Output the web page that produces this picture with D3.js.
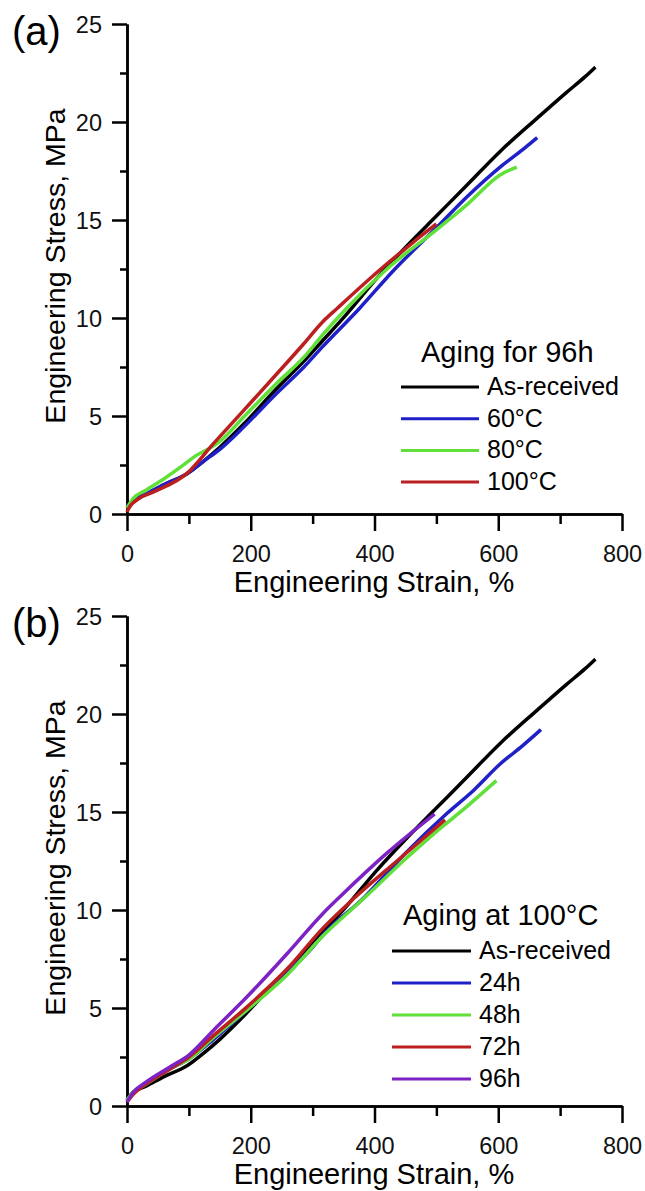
<!DOCTYPE html>
<html>
<head>
<meta charset="utf-8">
<script src="https://cdn.jsdelivr.net/npm/d3@7"></script>
<style>
  body { margin: 0; background: #fff; }
  svg { display: block; font-family: "Liberation Sans", Arial, sans-serif; }
</style>
</head>
<body>
<svg id="chart" width="645" height="1191"></svg>
<script>
// Tick values
const strainTicks = [0, 200, 400, 600, 800];
const strainMinor = [100, 300, 500, 700];
const stressTicks = [0, 5, 10, 15, 20, 25];
const stressMinor = [2.5, 7.5, 12.5, 17.5, 22.5];

// Curves: [strain %, stress MPa]
const asReceived = [[0,0.3],[10,0.7],[30,1.0],[60,1.5],[97,2.05],[124,2.7],[150,3.4],[189,4.6],[242,6.4],[286,7.8],[315,8.8],[355,10.2],[403,12.0],[450,13.6],[500,15.2],[550,16.8],[603,18.5],[663,20.2],[710,21.5],[740,22.3],[757,22.8]];
const temp60 = [[0,0.4],[10,0.7],[30,1.0],[60,1.5],[97,2.05],[124,2.7],[150,3.3],[189,4.45],[242,6.16],[286,7.5],[315,8.5],[376,10.5],[430,12.4],[500,14.6],[550,16.2],[603,17.7],[640,18.6],[663,19.2]];
const temp80 = [[0,0.3],[10,0.8],[30,1.2],[60,1.8],[87,2.4],[108,2.9],[150,3.7],[189,4.96],[242,6.67],[286,8.0],[315,9.1],[355,10.5],[420,12.5],[500,14.5],[550,15.8],[603,17.3],[630,17.7]];
const temp100 = [[0,0.1],[3,0.3],[20,0.8],[44,1.14],[97,2.07],[140,3.6],[189,5.3],[243,7.18],[286,8.7],[316,9.8],[340,10.5],[414,12.6],[460,13.8],[500,14.8]];

const aged24h = [[0,0.3],[10,0.7],[30,1.1],[70,1.9],[100,2.4],[140,3.4],[194,4.9],[259,6.8],[300,8.1],[316,8.7],[382,10.6],[450,12.9],[516,14.9],[560,16.1],[603,17.45],[640,18.4],[669,19.2]];
const aged48h = [[0,0.3],[10,0.7],[30,1.1],[70,1.9],[100,2.4],[140,3.5],[194,4.9],[259,6.7],[316,8.66],[382,10.57],[450,12.6],[500,14.0],[550,15.3],[597,16.6]];
const aged72h = [[0,0.2],[10,0.6],[30,1.1],[70,1.9],[100,2.5],[140,3.6],[194,5.06],[259,7.0],[316,9.05],[366,10.57],[440,12.6],[514,14.6]];
const aged96h = [[0,0.2],[10,0.7],[30,1.2],[70,2.0],[100,2.6],[140,3.87],[194,5.57],[259,7.78],[316,9.8],[345,10.7],[420,12.9],[497,14.9]];

const labelsA = ["As-received", "60°C", "80°C", "100°C"];
const labelsB = ["As-received", "24h", "48h", "72h", "96h"];

const svg = d3.select("#chart");

function drawPanel(opts) {
  const x = d3.scaleLinear().domain([0, 800]).range([127, 622]);
  const y = d3.scaleLinear().domain([0, 25]).range([opts.y0, opts.y0 - 490]);
  const g = svg.append("g");

  // minor ticks first, then major axes on top
  g.append("g")
    .attr("transform", `translate(0,${opts.y0})`)
    .call(d3.axisBottom(x).tickValues(strainMinor).tickSize(10).tickSizeOuter(0).tickFormat(""));
  g.append("g")
    .attr("transform", "translate(127,0)")
    .call(d3.axisLeft(y).tickValues(stressMinor).tickSize(7).tickSizeOuter(0).tickFormat(""));

  const xAxis = g.append("g")
    .attr("transform", `translate(0,${opts.y0})`)
    .call(d3.axisBottom(x).tickValues(strainTicks).tickSize(17).tickSizeOuter(0));
  xAxis.selectAll("text")
    .attr("y", 48).attr("dy", 0)
    .style("font-size", "23.5px");

  const yAxis = g.append("g")
    .attr("transform", "translate(127,0)")
    .call(d3.axisLeft(y).tickValues(stressTicks).tickSize(15).tickSizeOuter(0));
  yAxis.selectAll("text")
    .attr("x", -25).attr("dy", "0.38em")
    .style("font-size", "23.5px");

  g.selectAll(".domain, .tick line").attr("stroke", "#000").attr("stroke-width", 2.5);
  g.selectAll(".tick text").attr("fill", "#111").style("font-family", "'Liberation Sans', Arial, sans-serif");

  // axis titles
  g.append("text")
    .attr("x", 374).attr("y", opts.y0 + 78)
    .attr("text-anchor", "middle")
    .style("font-size", "29px")
    .text("Engineering Strain, %");
  g.append("text")
    .attr("transform", `translate(65,${opts.y0 - 248}) rotate(-90)`)
    .attr("text-anchor", "middle")
    .style("font-size", "28.5px")
    .text("Engineering Stress, MPa");

  // panel letter
  g.append("text")
    .attr("x", 12).attr("y", opts.y0 - 469)
    .style("font-size", "40px")
    .text(opts.letter);

  // curves
  const line = d3.line().x(d => x(d[0])).y(d => y(d[1])).curve(d3.curveMonotoneX);
  opts.series.forEach((s, i) => {
    g.append("path")
      .datum(s)
      .attr("d", line)
      .attr("fill", "none")
      .attr("stroke", opts.colors[i])
      .attr("stroke-width", 3.5)
      .attr("stroke-linejoin", "round");
  });

  // legend
  const lg = g.append("g");
  lg.append("text")
    .attr("x", opts.legend.titleX).attr("y", opts.legend.titleY)
    .style("font-size", "29px")
    .text(opts.legend.title);
  opts.labels.forEach((lab, i) => {
    const ly = opts.legend.firstY + i * opts.legend.step;
    lg.append("line")
      .attr("x1", opts.legend.lineX1).attr("x2", opts.legend.lineX2)
      .attr("y1", ly).attr("y2", ly)
      .attr("stroke", opts.colors[i]).attr("stroke-width", 3);
    lg.append("text")
      .attr("x", opts.legend.lineX2 + 8).attr("y", ly + 8)
      .style("font-size", "25px")
      .text(lab);
  });
}

drawPanel({
  y0: 514,
  letter: "(a)",
  series: [asReceived, temp60, temp80, temp100],
  colors: ["#000000", "#2020c8", "#60e038", "#bb1f1f"],
  labels: labelsA,
  legend: { title: "Aging for 96h", titleX: 421, titleY: 362, firstY: 387, step: 31.7, lineX1: 401, lineX2: 479 }
});

drawPanel({
  y0: 1106,
  letter: "(b)",
  series: [asReceived, aged24h, aged48h, aged72h, aged96h],
  colors: ["#000000", "#2020c8", "#60e038", "#bb1f1f", "#7d22c4"],
  labels: labelsB,
  legend: { title: "Aging at 100°C", titleX: 403, titleY: 925, firstY: 951, step: 32, lineX1: 392, lineX2: 471 }
});
</script>
</body>
</html>
